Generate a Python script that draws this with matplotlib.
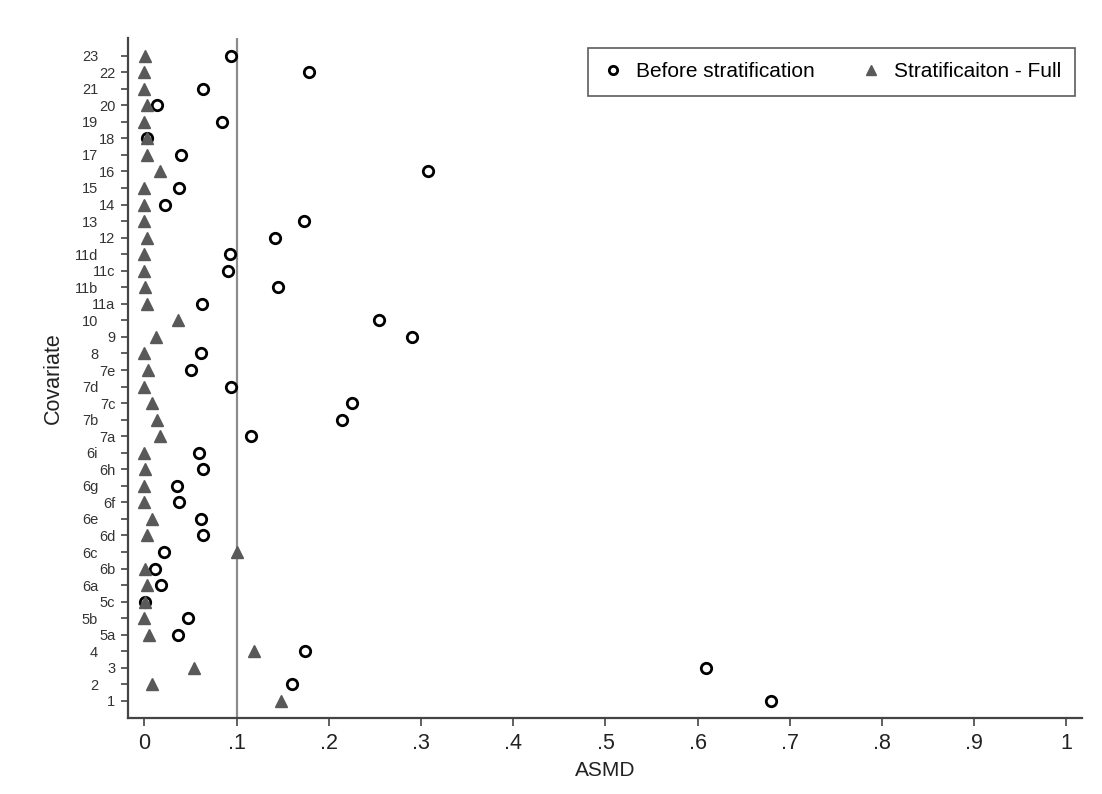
import matplotlib.pyplot as plt
import numpy as np

plt.rcParams['font.family'] = ['Liberation Sans', 'DejaVu Sans']

# covariates, bottom to top
covariates = ["1", "2", "3", "4", "5a", "5b", "5c", "6a", "6b", "6c", "6d", "6e", "6f", "6g",
              "6h", "6i", "7a", "7b", "7c", "7d", "7e", "8", "9", "10", "11a", "11b", "11c",
              "11d", "12", "13", "14", "15", "16", "17", "18", "19", "20", "21", "22", "23"]

before = [0.680, 0.160, 0.609, 0.174, 0.036, 0.047, 0.001, 0.018, 0.011, 0.021, 0.063, 0.061,
          0.038, 0.035, 0.063, 0.059, 0.116, 0.214, 0.225, 0.094, 0.051, 0.061, 0.290, 0.254,
          0.062, 0.145, 0.091, 0.093, 0.142, 0.173, 0.022, 0.037, 0.307, 0.040, 0.003, 0.084,
          0.014, 0.064, 0.178, 0.094]

strat_full = [0.148, 0.008, 0.054, 0.119, 0.005, 0.000, 0.001, 0.003, 0.001, 0.100, 0.003, 0.008,
              0.000, 0.000, 0.001, 0.000, 0.017, 0.014, 0.008, 0.000, 0.004, 0.000, 0.013, 0.036,
              0.003, 0.001, 0.000, 0.000, 0.003, 0.000, 0.000, 0.000, 0.017, 0.003, 0.003, 0.000,
              0.003, 0.000, 0.000, 0.001]

xticks = [0, 0.1, 0.2, 0.3, 0.4, 0.5, 0.6, 0.7, 0.8, 0.9, 1.0]
xticklabels = ["0", ".1", ".2", ".3", ".4", ".5", ".6", ".7", ".8", ".9", "1"]

fig = plt.figure(figsize=(11.02, 7.94), dpi=100)
ax = fig.add_axes([0.116, 0.0957, 0.866, 0.857])

pos = np.arange(len(covariates))

ax.axvline(0.1, color='#8c8c8c', lw=1.6, zorder=1)
ax.plot(before, pos, 'o', ms=7.5, mfc='white', mec='black', mew=2, ls='none',
        label='Before stratification', zorder=2)
ax.plot(strat_full, pos, '^', ms=9, color='#595959', ls='none',
        label='Stratificaiton - Full', zorder=3)

ax.set_xlim(-0.018, 1.017)
ax.set_ylim(-1.03, 40.09)
ax.set_xticks(xticks)
ax.set_xticklabels(xticklabels, fontsize=15.5, color='#222222')
ax.set_yticks(pos)
ax.set_yticklabels(covariates, fontsize=10.5, color='#333333')
ax.tick_params(axis='x', length=6, width=1.2, color='#444444', pad=5)
ax.tick_params(axis='y', length=5, width=1.2, color='#444444', pad=4)

# staggered y labels
for i, t in enumerate(ax.get_yticklabels()):
    if i % 2 == 1:
        t.set_x(-0.018)

for s in ['top', 'right']:
    ax.spines[s].set_visible(False)
for s in ['left', 'bottom']:
    ax.spines[s].set_linewidth(1.6)
    ax.spines[s].set_color('#444444')

ax.set_xlabel('ASMD', fontsize=15, color='#222222', labelpad=5)
ax.set_ylabel('Covariate', fontsize=15.5, color='#222222', labelpad=8)

leg = ax.legend(loc='upper right', bbox_to_anchor=(0.993, 0.985), ncol=2, fontsize=15,
                frameon=True, fancybox=False, edgecolor='#333333', handletextpad=0.6,
                columnspacing=2.2, borderpad=0.7, borderaxespad=0, handlelength=1.0,
                markerscale=0.8)
leg.get_frame().set_linewidth(1.2)

fig.savefig('out.png', dpi=100)
